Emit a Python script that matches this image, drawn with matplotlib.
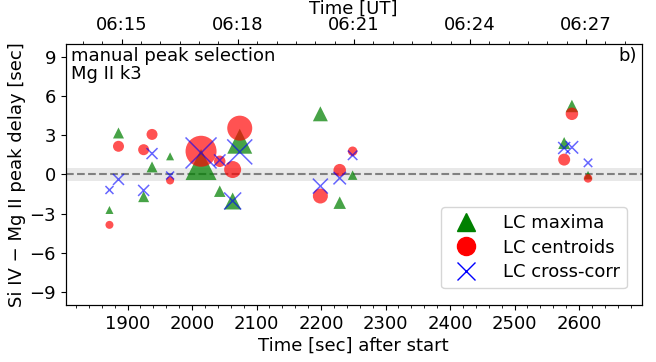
import matplotlib
matplotlib.use('Agg')
import matplotlib.pyplot as plt
from matplotlib.lines import Line2D
from matplotlib.ticker import MultipleLocator

# event times [sec after start]
t_evt = [1872, 1886, 1925, 1938, 1966, 2014, 2043, 2063, 2074,
         2199, 2229, 2249, 2577, 2589, 2614]
# Si IV - Mg II delays [sec]
d_max = [-2.72, 3.18, -1.70, 0.58, 1.39, 0.76, -1.28, -2.03, 2.55,
         4.65, -2.16, -0.05, 2.41, 5.25, -0.05]
d_cen = [-3.86, 2.16, 1.90, 3.07, -0.46, 1.78, 1.01, 0.38, 3.55,
         -1.65, 0.33, 1.78, 1.14, 4.65, -0.30]
d_xc = [-1.19, -0.38, -1.22, 1.60, -0.08, 1.65, 1.10, -2.03, 1.73,
        -0.89, -0.28, 1.47, 2.03, 2.08, 0.89]
# weight of each event (drawn as marker diameter, px)
w_evt = [8, 11, 11, 11, 8, 31, 11.5, 17, 25, 15, 12.5, 9.5, 12, 12.5, 8.5]

# UT axis on top
top_labels = ['06:15', '06:18', '06:21', '06:24', '06:27']
t0_ut = 6 * 3600 + 15 * 60 - 1891   # UT of start [sec of day]

fs = 13
fig = plt.figure(figsize=(6.56, 3.62), dpi=100)
ax = fig.add_axes([0.100, 0.1575, 0.878, 0.721])

s = [(w * 0.72) ** 2 for w in w_evt]

ax.axhspan(-0.5, 0.5, color='0.5', alpha=0.18, lw=0, zorder=0)
ax.axhline(0, color='gray', ls='--', lw=1.5, zorder=1)

ax.scatter(t_evt, d_max, s=s, marker='^', color='green', alpha=0.72,
           lw=0, zorder=2)
ax.scatter(t_evt, d_cen, s=s, marker='o', color='red', alpha=0.68,
           lw=0, zorder=3)
ax.scatter(t_evt, d_xc, s=s, marker='x', color='blue', alpha=0.6,
           lw=1.1, zorder=4)

ax.set_xlim(1804, 2697)
ax.set_ylim(-10, 10)
ax.set_yticks([-9, -6, -3, 0, 3, 6, 9])
ax.xaxis.set_minor_locator(MultipleLocator(20))
ax.tick_params(labelsize=fs)
ax.set_xlabel('Time [sec] after start', fontsize=fs, labelpad=3)
ax.set_ylabel('Si IV \u2212 Mg II peak delay [sec]', fontsize=fs, labelpad=2)

ax.text(0.01, 0.99, 'manual peak selection\nMg II k3', transform=ax.transAxes,
        ha='left', va='top', fontsize=fs, linespacing=1.05)
ax.text(0.992, 0.99, 'b)', transform=ax.transAxes, ha='right', va='top',
        fontsize=fs)

handles = [
    Line2D([], [], ls='none', marker='^', color='green', markersize=13),
    Line2D([], [], ls='none', marker='o', color='red', markersize=13),
    Line2D([], [], ls='none', marker='x', color='blue', markersize=13,
           markeredgewidth=1.0),
]
ax.legend(handles, ['LC maxima', 'LC centroids', 'LC cross-corr'],
          loc='lower right', fontsize=fs, handletextpad=1.0,
          borderpad=0.4, labelspacing=0.35, bbox_to_anchor=(0.99, 0.03))

ax2 = ax.twiny()
ax2.set_xlim(ax.get_xlim())
top_pos = []
for lab in top_labels:
    hh, mm = lab.split(':')
    top_pos.append(int(hh) * 3600 + int(mm) * 60 - t0_ut)
ax2.set_xticks(top_pos)
ax2.set_xticklabels(top_labels)
ax2.set_xticks([top_pos[0] + 30 * k for k in range(-4, 28)], minor=True)
ax2.set_xlim(ax.get_xlim())
ax2.tick_params(labelsize=fs)
ax2.set_xlabel('Time [UT]', fontsize=fs, labelpad=2)

fig.savefig('out.png', dpi=100)
